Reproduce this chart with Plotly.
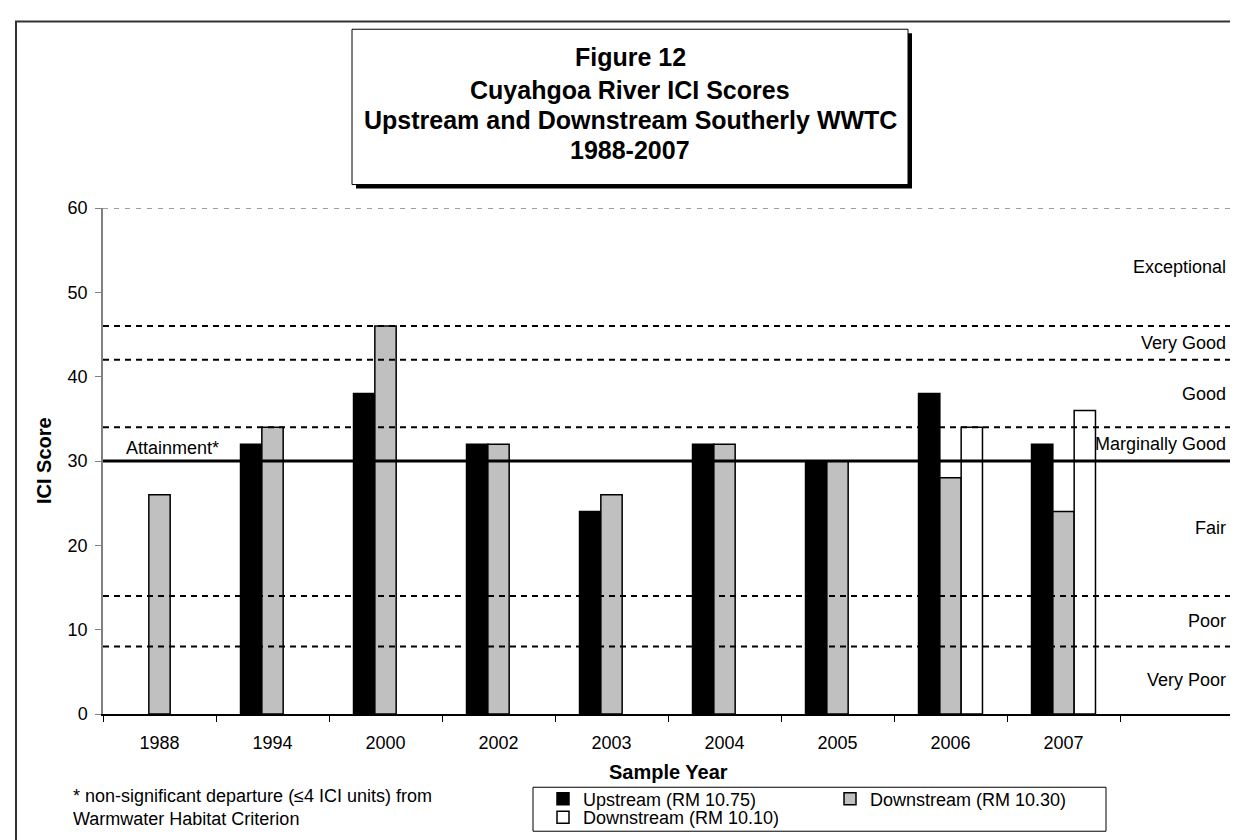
import plotly.graph_objects as go

# ---- data ----
years = ["1988", "1994", "2000", "2002", "2003", "2004", "2005", "2006", "2007", " "]
upstream_1075 = [None, 32, 38, 32, 24, 32, 30, 38, 32, None]
downstream_1030 = [26, 34, 46, 32, 26, 32, 30, 28, 24, None]
downstream_1010 = [None, None, None, None, None, None, None, 34, 36, None]

band_edges = [0, 8, 14, 30, 34, 42, 46, 60]
band_names = ["Very Poor", "Poor", "Fair", "Marginally Good", "Good", "Very Good", "Exceptional"]
dashed_levels = [8, 14, 34, 42, 46]
attainment = 30

title_lines = ["Figure 12", "Cuyahgoa River ICI Scores",
               "Upstream and Downstream Southerly WWTC", "1988-2007"]

# ---- page geometry (pixels) ----
W, H = 1238, 840
L, R, T, B = 95, 1225, 200, 718
PW, PH = R - L, B - T


def px(x):
    return (x - L) / PW


def py(y):
    return (B - y) / PH


FONT = "Liberation Sans, Arial, sans-serif"

fig = go.Figure()
fig.add_trace(go.Bar(x=years, y=upstream_1075, name="Upstream (RM 10.75)",
                     marker=dict(color="black", line=dict(color="black", width=1.5))))
fig.add_trace(go.Bar(x=years, y=downstream_1030, name="Downstream (RM 10.30)",
                     marker=dict(color="#C0C0C0", line=dict(color="black", width=1.5))))
fig.add_trace(go.Bar(x=years, y=downstream_1010, name="Downstream (RM 10.10)",
                     marker=dict(color="white", line=dict(color="black", width=1.5)),
                     legend="legend2"))

shapes = []
# outer frame
shapes.append(dict(type="rect", xref="paper", yref="paper",
                   x0=px(8), x1=px(1260), y0=py(860), y1=py(9),
                   line=dict(color="#333333", width=2), layer="below"))
# title box with drop shadow
shapes.append(dict(type="rect", xref="paper", yref="paper",
                   x0=px(348), x1=px(904), y0=py(180), y1=py(21),
                   fillcolor="black", line=dict(width=0)))
shapes.append(dict(type="rect", xref="paper", yref="paper",
                   x0=px(344), x1=px(900), y0=py(176), y1=py(17),
                   fillcolor="white", line=dict(color="black", width=1)))
# band boundaries
shapes.append(dict(type="line", xref="paper", yref="y", x0=0, x1=1, y0=60, y1=60,
                   line=dict(color="#404040", width=1, dash="5px,6px")))
for lv in dashed_levels:
    shapes.append(dict(type="line", xref="paper", yref="y", x0=0, x1=1, y0=lv, y1=lv,
                       line=dict(color="black", width=2, dash="6px,5px")))
shapes.append(dict(type="line", xref="paper", yref="y", x0=0, x1=1,
                   y0=attainment, y1=attainment, line=dict(color="black", width=3)))
# legend box
shapes.append(dict(type="rect", xref="paper", yref="paper",
                   x0=px(525), x1=px(1098), y0=py(838), y1=py(793),
                   line=dict(color="black", width=1)))

annotations = []
title_y = [45, 79, 110, 141]
for line, ty in zip(title_lines, title_y):
    annotations.append(dict(text="<b>%s</b>" % line, xref="paper", yref="paper",
                            x=px(622), y=py(ty), showarrow=False,
                            xanchor="center", yanchor="middle",
                            font=dict(family=FONT, size=25, color="black")))
for lo, hi, name in zip(band_edges[:-1], band_edges[1:], band_names):
    annotations.append(dict(text=name, xref="paper", yref="y", x=px(1220), y=(lo + hi) / 2,
                            showarrow=False, xanchor="right", yanchor="middle",
                            font=dict(family=FONT, size=18, color="black")))
annotations.append(dict(text="Attainment*", xref="paper", yref="y", x=px(116), y=31.6,
                        showarrow=False, xanchor="left", yanchor="middle",
                        font=dict(family=FONT, size=18, color="black")))
annotations.append(dict(text="<b>ICI Score</b>", xref="paper", yref="paper", x=px(36), y=0.5,
                        textangle=-90, showarrow=False, xanchor="center", yanchor="middle",
                        font=dict(family=FONT, size=20, color="black")))
annotations.append(dict(text="<b>Sample Year</b>", xref="paper", yref="paper", x=px(660), y=py(777),
                        showarrow=False, xanchor="center", yanchor="middle",
                        font=dict(family=FONT, size=20, color="black")))
annotations.append(dict(text="* non-significant departure (\u22644 ICI units) from<br>Warmwater Habitat Criterion",
                        xref="paper", yref="paper", x=px(63), y=py(814), align="left",
                        showarrow=False, xanchor="left", yanchor="middle",
                        font=dict(family=FONT, size=18, color="black")))

fig.update_layout(
    width=W, height=H,
    margin=dict(l=L, r=W - R, t=T, b=H - B),
    paper_bgcolor="white", plot_bgcolor="white",
    barmode="group", bargap=0.434, bargroupgap=0,
    font=dict(family=FONT, size=18, color="black"),
    shapes=shapes, annotations=annotations,
    showlegend=True,
    legend=dict(orientation="h", x=px(535), y=py(805), xanchor="left", yanchor="middle",
                entrywidth=242, bgcolor="rgba(0,0,0,0)", borderwidth=0,
                font=dict(family=FONT, size=18), itemclick=False),
    legend2=dict(orientation="h", x=px(535), y=py(824), xanchor="left", yanchor="middle",
                 bgcolor="rgba(0,0,0,0)", borderwidth=0,
                 font=dict(family=FONT, size=18), itemclick=False),
)
fig.update_xaxes(type="category", showline=True, linecolor="black", linewidth=1.5,
                 ticks="outside", tickson="boundaries", ticklen=6, tickcolor="black",
                 tickfont=dict(family=FONT, size=18), ticklabelstandoff=12,
                 showgrid=False, zeroline=False, mirror=False)
fig.update_yaxes(range=[0, 60], dtick=10, showline=True, linecolor="#808080", linewidth=1.5,
                 ticks="outside", ticklen=6, tickcolor="#808080",
                 tickfont=dict(family=FONT, size=18), ticklabelstandoff=4,
                 showgrid=False, zeroline=False)

fig.write_html("out.html")
